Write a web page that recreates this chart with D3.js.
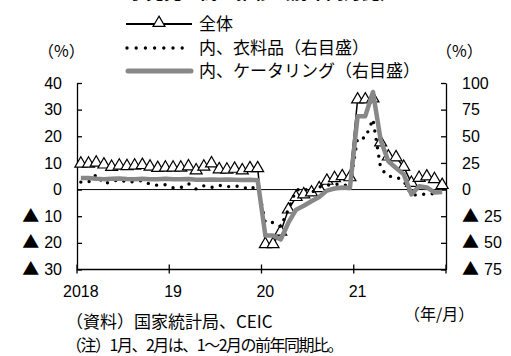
<!DOCTYPE html>
<html lang="ja">
<head>
<meta charset="UTF-8">
<title>小売売上高</title>
<script src="https://cdn.jsdelivr.net/npm/d3@7"></script>
<style>
  body { margin: 0; background: #fff; }
  svg text { font-family: "Liberation Sans", Arial, "Noto Sans CJK JP", sans-serif; fill: #000; }
  .jp { font-family: "Noto Sans CJK JP", sans-serif; }
</style>
</head>
<body>
<script>
// monthly, 2018/01 - 2021/12 (Jan & Feb share the Jan-Feb value)
const yearLabels = ["2018", "19", "20", "21"];
const leftTicks = [-30, -20, -10, 0, 10, 20, 30, 40];
const rightTicks = [-75, -50, -25, 0, 25, 50, 75, 100];

// 全体 (left axis)
const total = [
  9.7, 9.7, 10.1, 9.4, 8.5, 9.0, 8.8, 9.0, 9.2, 8.6, 8.1, 8.2,
  8.2, 8.2, 8.7, 7.2, 8.6, 9.8, 7.6, 7.5, 7.8, 7.2, 8.0, 8.0,
  -20.5, -20.5, -15.8, -7.5, -2.8, -1.8, -1.1, 0.5, 3.3, 4.3, 5.0, 4.6,
  33.8, 33.8, 34.2, 17.7, 12.4, 12.1, 8.5, 2.5, 4.4, 4.9, 3.9, 1.7
];
// 内、衣料品 (right axis)
const clothing = [
  7.0, 7.0, 14.0, 5.5, 7.5, 9.5, 7.0, 7.5, 8.5, 5.0, 4.0, 4.5,
  1.8, 1.8, 5.5, 0.5, 3.5, 2.0, 4.0, 2.6, 3.5, 2.5, 0.0, 4.5,
  -30.9, -30.9, -34.8, -18.5, -0.6, 1.2, -3.0, 2.5, 4.0, 5.0, 5.0, 3.0,
  48.4, 48.4, 66.0, 20.0, 12.5, 12.0, 8.0, -5.0, -5.0, -4.0, -4.0, -2.0
];
// 内、ケータリング (right axis)
const catering = [
  10.8, 10.8, 10.2, 9.8, 10.1, 10.3, 9.9, 9.8, 10.1, 9.8, 9.6, 10.2,
  9.7, 9.7, 9.9, 9.2, 9.3, 9.5, 9.2, 9.4, 9.2, 9.0, 9.1, 8.8,
  -43.1, -43.1, -46.8, -31.1, -18.9, -15.2, -11.0, -7.0, -1.0, 1.0, 2.0, 1.5,
  68.9, 68.9, 91.6, 46.4, 26.6, 20.2, 14.3, -4.5, 3.1, 2.0, -2.7, -2.2
];

const months = d3.timeMonth.range(new Date(2018, 0, 1), new Date(2022, 0, 1));

const width = 511, height = 356;
const plotL = 77, plotR = 446, plotT = 83, plotB = 269.5;

const svg = d3.select("body").append("svg")
  .attr("width", width).attr("height", height);

const x = d3.scaleBand().domain(months).range([plotL, plotR]).padding(0);
const cx = i => x(months[i]) + x.bandwidth() / 2;
const yL = d3.scaleLinear().domain([-30, 40]).range([plotB, plotT]);
const yR = d3.scaleLinear().domain([-75, 100]).range([plotB, plotT]);

// title (clipped at the top edge, as in the source image)
svg.append("text").attr("class", "jp")
  .attr("x", 263).attr("y", -1).attr("text-anchor", "middle")
  .attr("font-size", 18).attr("font-weight", "bold")
  .text("小売売上高の推移（前年同月比）");

// axes
const gL = svg.append("g").attr("transform", `translate(${plotL},0)`)
  .call(d3.axisLeft(yL).tickValues(leftTicks).tickSizeInner(-5).tickSizeOuter(0)
    .tickPadding(15));
const gR = svg.append("g").attr("transform", `translate(${plotR},0)`)
  .call(d3.axisRight(yR).tickValues(rightTicks).tickSizeInner(-5).tickSizeOuter(0)
    .tickPadding(16));
[gL, gR].forEach(g => {
  g.select(".domain").attr("stroke", "#000").attr("stroke-width", 1.3);
  g.selectAll(".tick line").attr("stroke", "#000").attr("stroke-width", 1.3);
  g.selectAll(".tick text").attr("font-size", 16).attr("fill", "#000")
    .attr("font-family", "\"Liberation Sans\", Arial, sans-serif")
    .each(function(d) {
      const t = d3.select(this).text("");
      if (d < 0) {
        t.append("tspan").attr("class", "jp").attr("font-size", 17).text("▲");
        t.append("tspan").attr("dx", 5).text(-d);
      } else {
        t.text(d);
      }
    });
});

// bottom axis with year ticks crossing the line
svg.append("line")
  .attr("x1", plotL).attr("x2", plotR).attr("y1", plotB).attr("y2", plotB)
  .attr("stroke", "#000").attr("stroke-width", 1.3);
const yearStarts = d3.range(0, 49, 12);
svg.append("g").selectAll("line").data(yearStarts).join("line")
  .attr("x1", i => i < 48 ? x(months[i]) : plotR)
  .attr("x2", i => i < 48 ? x(months[i]) : plotR)
  .attr("y1", plotB - 5).attr("y2", plotB + 4)
  .attr("stroke", "#000").attr("stroke-width", 1.3);
svg.append("g").selectAll("text").data(yearLabels).join("text")
  .attr("x", (d, k) => cx(k * 12)).attr("y", 297)
  .attr("text-anchor", "middle").attr("font-size", 16)
  .text(d => d);

// zero line
svg.append("line")
  .attr("x1", plotL).attr("x2", plotR).attr("y1", yL(0)).attr("y2", yL(0))
  .attr("stroke", "#000").attr("stroke-width", 1);

// series
const lineL = d3.line().x((d, i) => cx(i)).y(d => yL(d));
const lineR = d3.line().x((d, i) => cx(i)).y(d => yR(d));
const tri = d3.symbol(d3.symbolTriangle, 62);

svg.append("path").datum(total).attr("d", lineL)
  .attr("fill", "none").attr("stroke", "#000").attr("stroke-width", 1.5);
svg.append("g").selectAll("path").data(total).join("path")
  .attr("d", tri)
  .attr("transform", (d, i) => `translate(${cx(i)},${yL(d)})`)
  .attr("fill", "#fff").attr("stroke", "#000").attr("stroke-width", 1.2);

svg.append("path").datum(clothing).attr("d", lineR)
  .attr("fill", "none").attr("stroke", "#000").attr("stroke-width", 3.4)
  .attr("stroke-linecap", "round").attr("stroke-dasharray", "0 8.5");

svg.append("path").datum(catering).attr("d", lineR)
  .attr("fill", "none").attr("stroke", "#888").attr("stroke-width", 4.5)
  .attr("stroke-linejoin", "round");

// legend
const lg = svg.append("g");
lg.append("line").attr("x1", 126).attr("x2", 192).attr("y1", 24).attr("y2", 24)
  .attr("stroke", "#000").attr("stroke-width", 2);
lg.append("path").attr("d", tri).attr("transform", "translate(159,23)")
  .attr("fill", "#fff").attr("stroke", "#000").attr("stroke-width", 1.2);
lg.append("line").attr("x1", 127).attr("x2", 183).attr("y1", 48).attr("y2", 48)
  .attr("stroke", "#000").attr("stroke-width", 3.4)
  .attr("stroke-linecap", "round").attr("stroke-dasharray", "0 9.2");
lg.append("line").attr("x1", 128).attr("x2", 191).attr("y1", 71).attr("y2", 71)
  .attr("stroke", "#888").attr("stroke-width", 5).attr("stroke-linecap", "round");
const legendText = ["全体", "内、衣料品（右目盛）", "内、ケータリング（右目盛）"];
lg.selectAll("text").data(legendText).join("text").attr("class", "jp")
  .attr("x", 199).attr("y", (d, i) => [30, 54, 77][i])
  .attr("font-size", 17).text(d => d);

// unit labels
svg.append("text").attr("class", "jp").attr("x", 38).attr("y", 57)
  .attr("font-size", 16).text("（%）");
svg.append("text").attr("class", "jp").attr("x", 436).attr("y", 57)
  .attr("font-size", 16).text("（%）");

// notes
svg.append("text").attr("class", "jp").attr("x", 404).attr("y", 320)
  .attr("font-size", 16).text("（年/月）");
svg.append("text").attr("class", "jp").attr("x", 66).attr("y", 328)
  .attr("font-size", 17).text("（資料）国家統計局、CEIC");
svg.append("text").attr("class", "jp").attr("x", 66).attr("y", 351)
  .attr("font-size", 16).attr("letter-spacing", -1.5)
  .text("（注）1月、2月は、1～2月の前年同期比。");
</script>
</body>
</html>
